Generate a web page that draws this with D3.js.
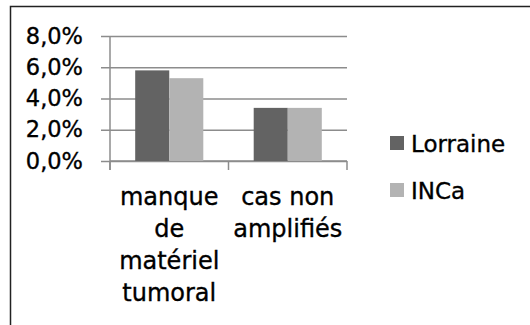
<!DOCTYPE html>
<html>
<head>
<meta charset="utf-8">
<script src="https://cdn.jsdelivr.net/npm/d3@7"></script>
<style>
  html, body { margin: 0; padding: 0; background: #fff; }
  svg { display: block; }
  text { font-family: "DejaVu Sans", sans-serif; fill: #000; stroke: #000; stroke-width: 0.35px; }
</style>
</head>
<body>
<svg id="chart" width="530" height="325"></svg>
<script>
// Categories (each split into display lines) and series values
const categories = ["manque de matériel tumoral", "cas non amplifiés"];
const categoryLines = [["manque", "de", "matériel", "tumoral"], ["cas non", "amplifiés"]];
const seriesNames = ["Lorraine", "INCa"];
const lorraine = [0.058, 0.034];
const inca = [0.053, 0.034];
const yTicks = [0, 0.02, 0.04, 0.06, 0.08];
const seriesColors = ["#636363", "#b3b3b3"];

const svg = d3.select("#chart");

// Outer frame: top and left edges
svg.append("path")
  .attr("d", "M10.5,325 L10.5,6.5 L530,6.5")
  .attr("fill", "none")
  .attr("stroke", "#222")
  .attr("stroke-width", 1.5);

const plot = { left: 110, right: 347, top: 36, bottom: 161 };

const x = d3.scaleBand().domain(categories).range([plot.left, plot.right]).padding(0);
const xs = d3.scaleBand().domain(seriesNames).range([0, x.bandwidth()]).paddingInner(0).paddingOuter(0.74);
const y = d3.scaleLinear().domain([0, 0.08]).range([plot.bottom, plot.top]);

const fmt = v => d3.format(".1f")(v * 100).replace(".", ",") + "%";

// Horizontal gridlines with left tick marks
const yAxis = d3.axisLeft(y).tickValues(yTicks)
  .tickSize(-(plot.right - plot.left)).tickFormat("");
const gy = svg.append("g").attr("transform", `translate(${plot.left},0)`).call(yAxis);
gy.select(".domain").remove();
gy.selectAll(".tick line")
  .attr("x1", -9)
  .attr("stroke", "#8c8c8c").attr("stroke-width", 1.5);

// Y tick labels
svg.append("g").selectAll("text").data(yTicks).join("text")
  .attr("x", 83).attr("y", d => y(d) + 7.5)
  .attr("text-anchor", "end")
  .attr("font-size", 22.5)
  .text(fmt);

// Vertical axis line
svg.append("line")
  .attr("x1", plot.left).attr("x2", plot.left)
  .attr("y1", plot.top).attr("y2", plot.bottom + 9)
  .attr("stroke", "#8c8c8c").attr("stroke-width", 1.5);

// Category axis with boundary ticks
const xAxis = d3.axisBottom(x).tickSize(0).tickFormat("");
const gx = svg.append("g").attr("transform", `translate(0,${plot.bottom})`).call(xAxis);
gx.select(".domain").attr("stroke", "#8c8c8c").attr("stroke-width", 1.5).attr("d", `M${plot.left},0H${plot.right}`);
gx.selectAll(".tick").remove();
const boundaries = categories.map(c => x(c)).concat([x(categories[categories.length - 1]) + x.bandwidth()]);
gx.selectAll("line.bound").data(boundaries).join("line")
  .attr("class", "bound")
  .attr("x1", d => d).attr("x2", d => d)
  .attr("y1", 0).attr("y2", 9)
  .attr("stroke", "#8c8c8c").attr("stroke-width", 1.5);

// Bars
const seriesData = [lorraine, inca];
const gBars = svg.append("g");
categories.forEach((c, i) => {
  seriesNames.forEach((s, j) => {
    const v = seriesData[j][i];
    gBars.append("rect")
      .attr("x", x(c) + xs(s))
      .attr("y", y(v))
      .attr("width", xs.bandwidth())
      .attr("height", y(0) - y(v))
      .attr("fill", seriesColors[j]);
  });
});

// Category labels
categories.forEach((c, i) => {
  const t = svg.append("text")
    .attr("text-anchor", "middle")
    .attr("font-size", 24);
  categoryLines[i].forEach((line, k) => {
    t.append("tspan")
      .attr("x", x(c) + x.bandwidth() / 2)
      .attr("y", 205 + k * 32)
      .text(line);
  });
});

// Legend
const legend = svg.append("g");
seriesNames.forEach((s, j) => {
  const ly = 136 + j * 47;
  legend.append("rect").attr("x", 390).attr("y", ly).attr("width", 14).attr("height", 14)
    .attr("fill", seriesColors[j]);
  legend.append("text").attr("x", 411).attr("y", ly + 16).attr("font-size", 23).text(s);
});
</script>
</body>
</html>
